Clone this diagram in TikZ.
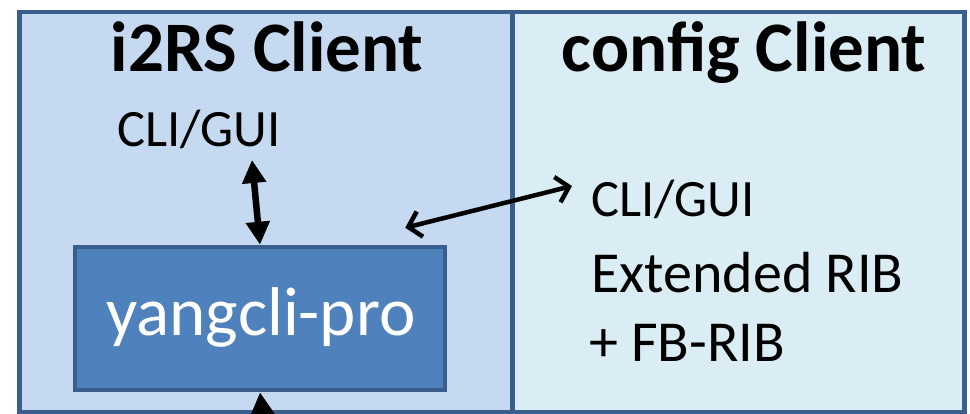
\documentclass[tikz,border=0pt]{standalone}
\usepackage{fontspec}
\setmainfont{Carlito}
\usetikzlibrary{arrows.meta}
\definecolor{bordc}{HTML}{3A5F8E}
\definecolor{leftfill}{HTML}{C5D9F0}
\definecolor{rightfill}{HTML}{DBEDF4}
\definecolor{boxfill}{HTML}{4F81BD}
\begin{document}
\begin{tikzpicture}[x=1pt,y=-1pt,
  panel/.style={draw=bordc, line width=4.5pt, inner sep=0pt, anchor=north west},
  title/.style={font=\fontsize{71}{84}\selectfont\bfseries, anchor=base, inner sep=0pt},
  label/.style={font=\fontsize{52.5}{60}\selectfont, anchor=base west, inner sep=0pt},
  biglabel/.style={font=\fontsize{58}{66}\selectfont, anchor=base west, inner sep=0pt},
  bigarrow/.style={line width=6.5pt, {Triangle[length=23pt,width=23pt]}-{Triangle[length=23pt,width=23pt]}},
  thinarrow/.style={line width=4.5pt, {Straight Barb[length=12pt,width=26pt]}-{Straight Barb[length=12pt,width=26pt]}},
  uparrow/.style={line width=6.5pt, -{Triangle[length=23pt,width=23pt]}}
]
\useasboundingbox (0,0) rectangle (970,414);
\fill[white] (0,0) rectangle (970,414);
\clip (0,0) rectangle (970,414);
\node[panel, fill=leftfill, minimum width=493pt, minimum height=400pt] (i2rs) at (17,10) {};
\node[panel, fill=rightfill, minimum width=452pt, minimum height=400pt] (cfg) at (510,10) {};
\node[title] (t1) at (267,72) {i2RS Client};
\node[title] (t2) at (744,72) {config Client};
\node[label] (cli1) at (117,147) {CLI/GUI};
\node[draw=bordc, line width=4.5pt, fill=boxfill, minimum width=370pt, minimum height=143pt, inner sep=0pt] (yang) at (260,318.5) {};
\node[font=\fontsize{69}{80}\selectfont, text=white, anchor=base, inner sep=0pt] (yangt) at (261,335) {yangcli-pro};
\node[label] (cli2) at (591,217) {CLI/GUI};
\node[biglabel] (ext) at (591,293) {Extended RIB};
\node[biglabel] (fb) at (589,362) {+ FB-RIB};
\coordinate (bottomend) at (265,440);
\draw[bigarrow] ([xshift=135pt,yshift=-13pt]cli1.base west) -- (yang.north);
\draw[thinarrow] ([xshift=-42pt,yshift=17pt]yang.north east) -- ([xshift=-19pt,yshift=31pt]cli2.base west);
\draw[uparrow] (bottomend) -- (yang.south);
\end{tikzpicture}
\end{document}
